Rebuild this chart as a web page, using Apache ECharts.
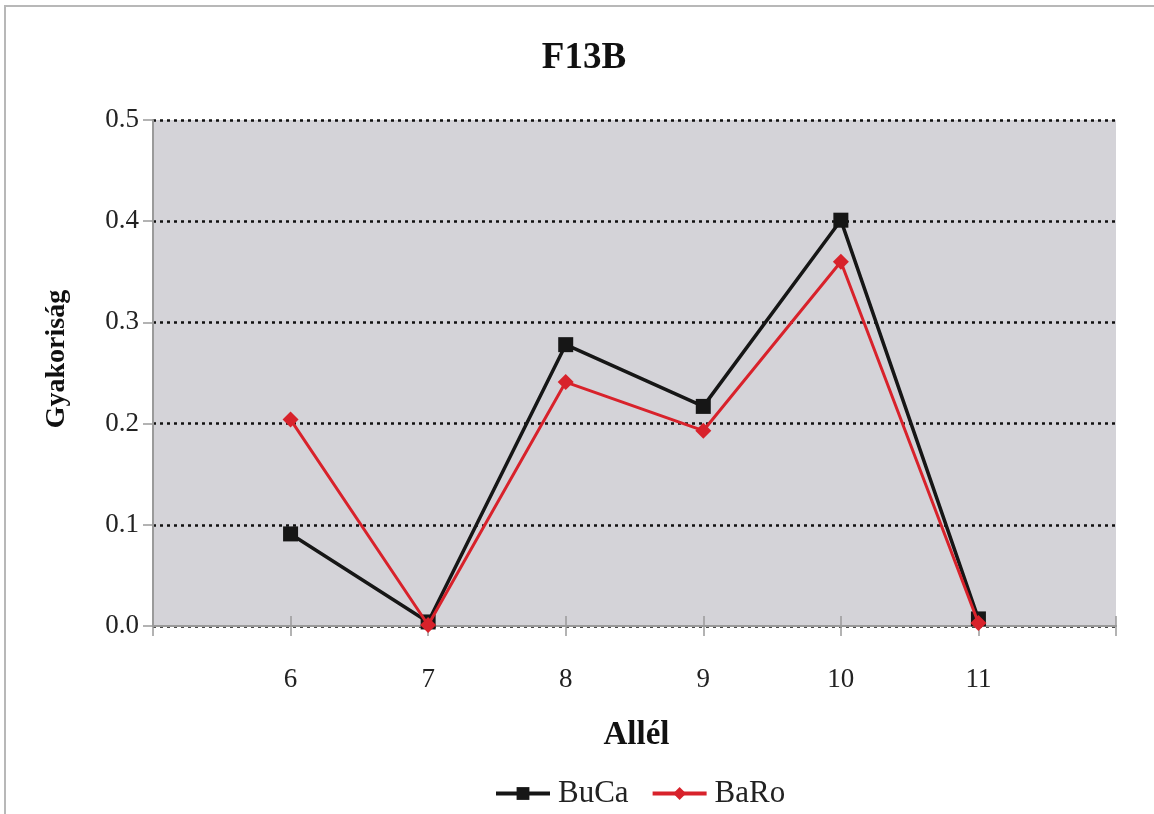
<!DOCTYPE html>
<html>
<head>
<meta charset="utf-8">
<script src="https://cdn.jsdelivr.net/npm/echarts@6/dist/echarts.min.js"></script>
<style>
  html, body { margin: 0; padding: 0; background: #ffffff; }
  #frame { position: absolute; left: 4px; top: 5px; width: 1160px; height: 820px;
           border-left: 2px solid #b8b8b8; border-top: 2px solid #b8b8b8; box-sizing: border-box; }
  #chart { position: absolute; left: 0; top: 0; width: 1154px; height: 814px; }
</style>
</head>
<body>
<div id="frame"></div>
<div id="chart"></div>
<script>
// Allele frequencies of the F13B locus in two populations
const alleles = [6, 7, 8, 9, 10, 11];
const bucaFreq = [0.091, 0.004, 0.278, 0.217, 0.401, 0.007];
const baroFreq = [0.204, 0.001, 0.241, 0.193, 0.360, 0.003];
const yTicks = [0, 0.1, 0.2, 0.3, 0.4, 0.5];

const serif = 'Liberation Serif';
const pairs = (vals) => alleles.map((a, i) => [a, vals[i]]);

const chart = echarts.init(document.getElementById('chart'));
const xBase = {
  type: 'value', min: 5, max: 12, interval: 1,
  splitLine: { show: false },
  axisLine: { lineStyle: { color: '#9a9a9a', width: 2 } }
};
chart.setOption({
  animation: false,
  backgroundColor: 'transparent',
  title: {
    text: 'F13B', left: 579, textAlign: 'center', top: 35,
    textStyle: { fontFamily: serif, fontSize: 37, fontWeight: 'bold', color: '#111' }
  },
  legend: {
    top: 773, left: 489, itemWidth: 54, itemHeight: 16, itemGap: 22,
    lineStyle: { width: 4 },
    textStyle: { fontFamily: serif, fontSize: 31, color: '#222', padding: [0, 0, 0, 3] },
    data: ['BuCa', 'BaRo']
  },
  grid: {
    left: 153, right: 38, top: 120, bottom: 188,
    show: true, backgroundColor: '#d4d3d8', borderWidth: 0
  },
  xAxis: [
    Object.assign({}, xBase, {
      name: 'Allél', nameLocation: 'middle', nameGap: 93,
      nameTextStyle: { fontFamily: serif, fontSize: 33, fontWeight: 'bold', color: '#111',
                       padding: [0, 0, 0, 4] },
      axisTick: { length: 10, lineStyle: { color: '#9a9a9a', width: 1.5 } },
      axisLabel: {
        margin: 40, fontFamily: serif, fontSize: 27, color: '#222',
        formatter: (v) => alleles.includes(v) ? String(v) : ''
      }
    }),
    Object.assign({}, xBase, {
      position: 'bottom',
      axisTick: { inside: true, length: 10, lineStyle: { color: '#9a9a9a', width: 1.5 } },
      axisLabel: { show: false }
    })
  ],
  yAxis: {
    type: 'value', min: 0, max: 0.5, interval: 0.1,
    name: 'Gyakoriság', nameLocation: 'middle', nameGap: 82, nameRotate: 90,
    nameTextStyle: { fontFamily: serif, fontSize: 28, fontWeight: 'bold', color: '#111',
                     padding: [0, 0, 0, 28] },
    axisLine: { show: true, lineStyle: { color: '#9a9a9a', width: 2 } },
    axisTick: { show: true, length: 10, lineStyle: { color: '#9a9a9a', width: 1.5 } },
    axisLabel: {
      margin: 14, fontFamily: serif, fontSize: 27, color: '#222',
      formatter: (v) => yTicks.some(t => Math.abs(t - v) < 1e-9) ? v.toFixed(1) : ''
    },
    splitLine: { lineStyle: { color: '#111', width: 2.5, type: [3, 4] } }
  },
  series: [
    {
      name: 'BuCa', type: 'line', data: pairs(bucaFreq),
      symbol: 'rect', symbolSize: 15,
      lineStyle: { color: '#161616', width: 3.5 },
      itemStyle: { color: '#161616' }, z: 3
    },
    {
      name: 'BaRo', type: 'line', data: pairs(baroFreq),
      symbol: 'diamond', symbolSize: 16,
      lineStyle: { color: '#d8222b', width: 3 },
      itemStyle: { color: '#d8222b' }, z: 4
    }
  ]
});
</script>
</body>
</html>
